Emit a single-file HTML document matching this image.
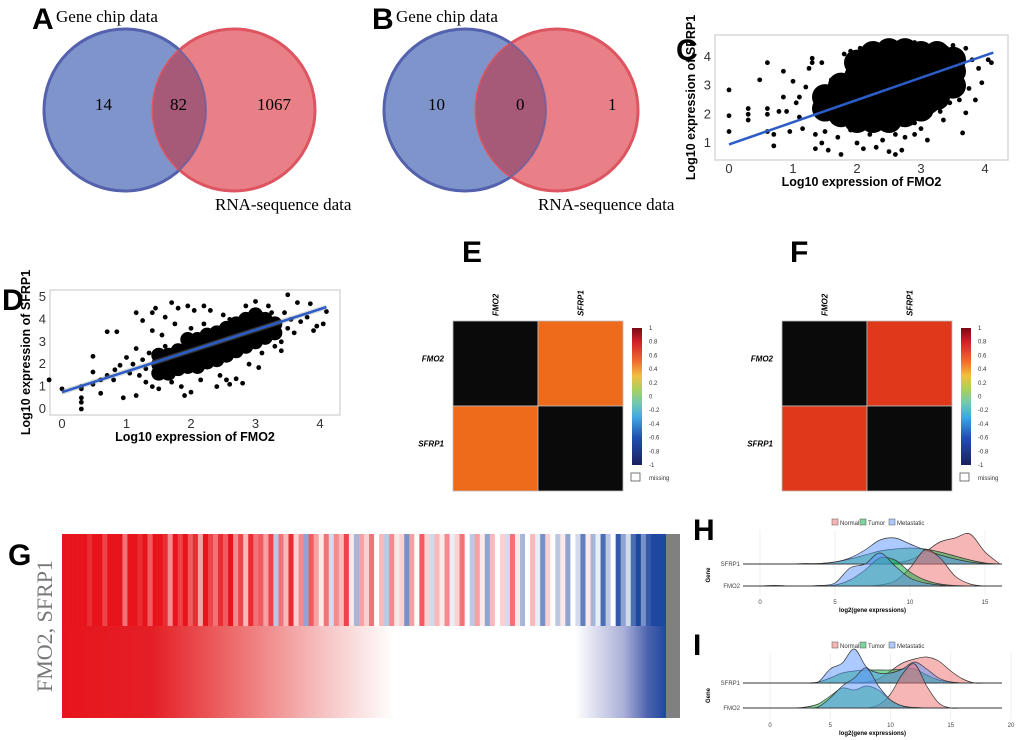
<!DOCTYPE html>
<html><head><meta charset="utf-8"><style>
body{margin:0;background:#fff;width:1020px;height:740px;overflow:hidden}
svg{display:block;font-family:"Liberation Sans",sans-serif}
.lab{font:bold 30px "Liberation Sans",sans-serif}
.ser{font-family:"Liberation Serif",serif}
</style></head><body>
<svg id="fig" width="1020" height="740" viewBox="0 0 1020 740">
<defs>
<clipPath id="clipA"><circle cx="125" cy="110" r="81"/></clipPath>
<clipPath id="clipB"><circle cx="465" cy="110" r="81"/></clipPath>
<linearGradient id="gBot" x1="0" x2="1" y1="0" y2="0">
<stop offset="0" stop-color="#e8141c"/><stop offset="0.15" stop-color="#e41f26"/><stop offset="0.28" stop-color="#ec6a6a"/><stop offset="0.44" stop-color="#f6c6c6"/><stop offset="0.55" stop-color="#fff"/><stop offset="0.85" stop-color="#fff"/><stop offset="0.93" stop-color="#aab0d8"/><stop offset="0.97" stop-color="#4c62ae"/><stop offset="1" stop-color="#1e48a0"/>
</linearGradient>
<linearGradient id="gBar" x1="0" x2="0" y1="0" y2="1">
<stop offset="0" stop-color="#7a0a14"/><stop offset="0.1" stop-color="#d0202a"/><stop offset="0.25" stop-color="#f07030"/><stop offset="0.35" stop-color="#f0c040"/><stop offset="0.45" stop-color="#a8d060"/><stop offset="0.55" stop-color="#70c8b0"/><stop offset="0.65" stop-color="#40a8e0"/><stop offset="0.8" stop-color="#2050b0"/><stop offset="1" stop-color="#1a2060"/>
</linearGradient>
</defs>

<g>
<text class="lab" x="32" y="29">A</text>
<circle cx="125" cy="110" r="81" fill="#8094cc" stroke="#4d63b3" stroke-width="3"/>
<circle cx="234" cy="110" r="81" fill="#e98088" stroke="#dd5560" stroke-width="3"/>
<circle cx="234" cy="110" r="81" fill="#a65a78" clip-path="url(#clipA)"/>
<circle cx="125" cy="110" r="81" fill="none" stroke="#5b5fa8" stroke-width="2" opacity="0.7"/>
<text class="ser" x="56" y="22" font-size="17">Gene chip data</text>
<text class="ser" x="95" y="110" font-size="17">14</text>
<text class="ser" x="170" y="110" font-size="17">82</text>
<text class="ser" x="257" y="110" font-size="17">1067</text>
<text class="ser" x="215" y="210" font-size="17">RNA-sequence data</text>
</g>
<g>
<text class="lab" x="372" y="29">B</text>
<circle cx="465" cy="110" r="81" fill="#8094cc" stroke="#4d63b3" stroke-width="3"/>
<circle cx="557" cy="110" r="81" fill="#e98088" stroke="#dd5560" stroke-width="3"/>
<circle cx="557" cy="110" r="81" fill="#a65a78" clip-path="url(#clipB)"/>
<circle cx="465" cy="110" r="81" fill="none" stroke="#5b5fa8" stroke-width="2" opacity="0.7"/>
<text class="ser" x="396" y="22" font-size="17">Gene chip data</text>
<text class="ser" x="428" y="110" font-size="17">10</text>
<text class="ser" x="516" y="110" font-size="17">0</text>
<text class="ser" x="608" y="110" font-size="17">1</text>
<text class="ser" x="538" y="210" font-size="17">RNA-sequence data</text>
</g>

<g id="pC"></g>
<g id="pD"></g>
<g id="pE"></g>
<g id="pF"></g>
<g id="pG"></g>
<g id="pH"></g>
<g id="pI"></g>
</svg>
<script>
const cCoreX=[1.5,1.5,1.75,1.75,1.75,2,2,2,2,2,2.25,2.25,2.25,2.25,2.25,2.25,2.5,2.5,2.5,2.5,2.5,2.5,2.75,2.75,2.75,2.75,2.75,2.75,3,3,3,3,3,3.25,3.25,3.25,3.25,3.5,3.5,3.5,1.9,2.1,2.4,2.6,2.9,3.1,3.4,2.35,2.65,3.15,1.65];
const cCoreY=[2.2,2.6,2.0,2.5,3.0,1.8,2.3,2.8,3.3,3.8,1.8,2.3,2.8,3.3,3.8,4.1,1.8,2.3,2.8,3.3,3.8,4.2,2.0,2.5,3.0,3.5,4.0,4.2,2.2,2.7,3.2,3.7,4.1,2.6,3.1,3.6,4.1,3.0,3.5,3.9,2.05,2.55,2.05,2.55,2.35,2.45,3.25,3.55,3.75,2.85,2.3];
const cX=[0,0,0,0.3,0.3,0.3,0.48,0.6,0.6,0.6,0.6,0.7,0.7,0.78,0.85,0.85,0.9,0.95,1.0,1.05,1.1,1.1,1.15,1.2,1.25,1.3,1.3,1.35,1.35,1.4,1.45,1.45,1.5,1.55,1.65,1.7,1.75,1.8,1.9,2.0,2.1,2.2,2.3,2.4,2.5,2.6,2.7,2.75,2.9,3.0,3.1,3.35,3.55,3.6,3.65,3.7,3.75,3.8,3.85,3.9,3.95,4.05,4.1,3.7,3.5,2.9,2.6,2.3,2.05,1.6,1.6,1.55,3.3,3.45,3.4,2.2,2.6,2.9,1.9];
const cY=[2.85,1.95,1.4,2.2,2.0,1.8,3.2,3.8,2.2,2.0,1.4,1.3,0.9,2.1,3.5,2.6,2.1,1.4,3.15,2.4,2.6,1.9,1.5,2.95,3.6,3.95,3.8,1.3,0.8,2.3,3.8,1.0,1.4,0.75,2.9,1.2,0.6,4.1,4.2,1.0,0.8,1.3,0.85,1.1,0.7,0.6,0.75,1.2,1.3,1.5,1.1,1.8,3.0,2.5,1.35,2.05,2.9,3.9,2.5,3.6,3.1,3.9,3.8,4.3,4.4,4.5,4.4,4.35,4.3,2.0,3.2,2.5,2.1,2.4,4.3,1.55,1.3,1.7,1.45];
const cFit=[0.95,4.15]; const cFitX=[0,4.13];
const cXTicks=[0,1,2,3,4]; const cYTicks=[1,2,3,4];
const dCoreX=[1.5,1.5,1.5,1.65,1.65,1.65,1.8,1.8,1.8,1.95,1.95,1.95,1.95,2.1,2.1,2.1,2.1,2.25,2.25,2.25,2.25,2.4,2.4,2.4,2.4,2.55,2.55,2.55,2.55,2.7,2.7,2.7,2.7,2.85,2.85,2.85,2.85,3,3,3,3,3.15,3.15,3.15,3.3,3.3];
const dCoreY=[1.6,2.0,2.4,1.6,2.0,2.4,1.8,2.2,2.6,1.9,2.3,2.7,3.1,1.9,2.3,2.7,3.1,2.1,2.5,2.9,3.3,2.2,2.6,3.0,3.4,2.4,2.8,3.2,3.6,2.6,3.0,3.4,3.8,2.8,3.2,3.6,4.0,3.0,3.4,3.8,4.2,3.2,3.6,4.0,3.4,3.8];
const dX=[0,-0.2,0.3,0.3,0.3,0.3,0.3,0.48,0.48,0.48,0.6,0.6,0.7,0.7,0.8,0.82,0.85,0.9,0.95,1.0,1.05,1.1,1.15,1.15,1.15,1.2,1.25,1.3,1.35,1.4,1.4,1.4,1.45,1.5,1.55,1.6,1.7,1.75,1.8,1.85,1.9,1.95,2.0,2.05,2.15,2.2,2.3,2.4,2.45,2.5,2.55,2.6,2.7,2.8,2.85,2.9,3.0,3.05,3.1,3.2,3.3,3.4,3.45,3.5,3.55,3.6,3.65,3.7,3.8,3.85,3.9,3.95,4.05,4.1,3.4,3.5,1.3,1.25,1.7,1.6,2.0,2.2,2.6,3.25];
const dY=[0.9,1.3,1.0,0.9,0.5,0.3,0,2.35,1.65,1.1,0.7,1.3,3.45,1.5,1.3,1.75,3.45,1.95,0.5,2.3,1.6,2.0,4.3,2.7,0.6,1.5,3.95,1.2,2.5,4.3,3.5,1.0,4.5,0.9,3.3,4.1,4.75,3.8,4.5,1.0,0.6,4.6,0.75,4.4,1.3,4.6,4.4,1.0,1.5,4.2,1.3,1.1,1.35,1.15,4.6,2.0,4.8,1.85,2.5,4.6,2.8,2.6,4.3,5.1,4.0,3.4,4.75,3.9,4.1,4.7,3.5,3.7,3.8,4.35,3.0,3.6,1.8,2.2,1.2,2.8,3.6,3.8,4.0,4.3];
const dFit=[0.75,4.55]; const dFitX=[0,4.1];
const dXTicks=[0,1,2,3,4]; const dYTicks=[0,1,2,3,4,5];
const genes=['FMO2','SFRP1'];
const corrE=[[null,0.6],[0.6,null]];
const corrF=[[null,0.78],[0.78,null]];
const barTicks=[1,0.8,0.6,0.4,0.2,0,-0.2,-0.4,-0.6,-0.8,-1];
const gTop=[1,1,1,1,1,0.9,1,1,0.8,1,1,1,0.6,1,1,0.9,1,0.7,1,1,0.9,0.5,1,0.8,1,0.7,0.9,0.4,1,0.8,0.6,0.9,0.7,1,0.5,0.8,0.3,0.9,0.6,0.7,0.4,0.8,-0.3,0.6,0.3,0.9,0.2,0.5,-0.5,0.7,0.4,0.1,0.6,-0.2,0.5,0.3,0.8,0.1,-0.4,0.4,0.2,0.6,0,0.3,-0.3,0.5,0.1,0.2,-0.6,0.4,0,0.7,0.2,-0.2,0.3,0.1,0.5,-0.1,0.2,0.6,0,-0.3,0.4,0.1,-0.5,0.3,0,0.2,-0.2,0.6,0.1,-0.4,0,0.3,-0.1,-0.6,0.2,0,-0.3,0.1,-0.5,0,-0.2,-0.7,0.1,-0.4,-0.1,-0.8,-0.3,0,-0.9,-0.5,-0.2,-0.8,-1,-0.6,-0.9,-1,-1,-1];
const hGrid=[0,1,2,3,4,5,6,7,8,9,10,11,12,13,14,15,16];
const hSfrpNormal=[0,0,0,0,0,0,0,0,0,1,4,12,22,26,30,12,0];
const hSfrpTumor=[0,0,0,0,0.5,2,5,9,13,15,16,15,12,8,4,1,0];
const hSfrpMeta=[0,0,0,0.5,0.5,2,6,14,24,26,20,14,9,5,2,0.5,0];
const hFmoNormal=[0,0,0,0,0,0,0,0,1,5,18,36,28,10,2,0,0];
const hFmoTumor=[0,0.5,0,0,0.5,1,6,16,28,26,14,6,2,0.5,0,0,0];
const hFmoMeta=[0,0.5,0,0,0.5,3,18,22,33,20,8,3,1,0,0,0,0];
const hTicks=[0,5,10,15];
const iGrid=[-2,-1,0,1,2,3,4,5,6,7,8,9,10,11,12,13,14,15,16,17,18,19];
const iSfrpNormal=[0,0,0,0,0,0,0,0,0,0,1,4,12,20,24,26,22,12,4,0,0,0];
const iSfrpTumor=[0,0,0,0,0,0,1,5,10,12,13,13,13,14,14,8,3,1,0,0,0,0];
const iSfrpMeta=[0,0,0,0,0,0,1,14,20,34,16,10,10,14,21,14,5,1,0,0,0,0];
const iFmoNormal=[0,0,0,0,0,0,0,0,0,0,0,3,14,34,44,22,5,0,0,0,0,0];
const iFmoTumor=[0,0,0,0,0,1,4,12,20,18,22,18,8,2,0.5,0,0,0,0,0,0,0];
const iFmoMeta=[0,0,0,0,0,0,1,10,22,30,40,22,8,2,0.5,0,0,0,0,0,0,0];
const iTicks=[0,5,10,15,20];

const NS='http://www.w3.org/2000/svg';
function mk(parent,tag,attrs){const e=document.createElementNS(NS,tag);for(const k in attrs)e.setAttribute(k,attrs[k]);parent.appendChild(e);return e;}
function txt(parent,x,y,s,size,extra){const t=mk(parent,'text',Object.assign({x:x,y:y,'font-size':size},extra||{}));t.textContent=s;return t;}

function scatter(g,box,xs,ys,coreX,coreY,coreR,ptR,fitX,fitY,xt,yt,label,lx,ly,band){
  const sx=v=>box.x0+(v-box.xmin)*box.kx, sy=v=>box.y0-(v-box.ymin)*box.ky;
  const fr=mk(g,'rect',{x:box.l,y:box.t,width:box.r-box.l,height:box.b-box.t,fill:'#fff',stroke:'#d8d8d8','stroke-width':1.5});
  
  
  const lab=mk(g,'text',{x:lx,y:ly,class:'lab'});lab.textContent=label;
  
  
  for(let i=0;i<coreX.length;i++){
    const c=mk(g,'circle',{cx:sx(coreX[i]),cy:sy(coreY[i]),r:coreR,fill:'#000'});
    
    
  }
  for(let i=0;i<xs.length;i++){
    const c=mk(g,'circle',{cx:sx(xs[i]),cy:sy(ys[i]),r:ptR,fill:'#000'});
    
    
  }
  if(band){const b=mk(g,'polygon',{points:`${sx(fitX[0])},${sy(fitY[0]+0.12)} ${sx(fitX[1])},${sy(fitY[1]+0.12)} ${sx(fitX[1])},${sy(fitY[1]-0.12)} ${sx(fitX[0])},${sy(fitY[0]-0.12)}`,fill:'#999',opacity:0.35});
    
    }
  const ln=mk(g,'line',{x1:sx(fitX[0]),y1:sy(fitY[0]),x2:sx(fitX[1]),y2:sy(fitY[1]),stroke:'#2b5cc8','stroke-width':2.5});
  
  
  xt.forEach(v=>{const t=txt(g,sx(v),box.b+13,String(v),13,{'text-anchor':'middle',fill:'#333'});
    
    });
  yt.forEach(v=>{const t=txt(g,box.l-4,sy(v)+4,String(v),13,{'text-anchor':'end',fill:'#333'});
    
    });
  const xa=txt(g,(box.l+box.r)/2,box.b+26,'Log10 expression of FMO2',12.5,{'text-anchor':'middle','font-weight':'bold'});
  
  
  const ya=txt(g,0,0,'Log10 expression of SFRP1',12.5,{'text-anchor':'middle','font-weight':'bold',transform:`translate(${box.l-20},${(box.t+box.b)/2}) rotate(-90)`});
  
  
}
scatter(document.getElementById('pC'),{l:715,r:1008,t:35,b:160,x0:729,xmin:0,kx:64,y0:143,ymin:1,ky:28.7},cX,cY,cCoreX,cCoreY,13,2.4,cFitX,cFit,cXTicks,cYTicks,'C',676,60,false);
scatter(document.getElementById('pD'),{l:50,r:340,t:290,b:415,x0:62,xmin:0,kx:64.5,y0:409,ymin:0,ky:22.4},dX,dY,dCoreX,dCoreY,7.5,2.4,dFitX,dFit,dXTicks,dYTicks,'D',2,310,true);

function corrColor(v){if(v===null)return '#0a0a0a'; return v>0.7?'#e0381a':'#ee6b1c';}
function heat(g,x0,y0,size,mat,label,lx){
  const lab=mk(g,'text',{x:lx,y:262,class:'lab'});lab.textContent=label;
  
  
  const cs=size/genes.length;
  for(let r=0;r<genes.length;r++)for(let c=0;c<genes.length;c++){
    const cell=mk(g,'rect',{x:x0+c*cs,y:y0+r*cs,width:cs,height:cs,fill:corrColor(mat[r][c]),stroke:'#bbb','stroke-width':0.8});
    
    
  }
  genes.forEach((n,i)=>{
    const t=txt(g,0,0,n,8,{'font-weight':'bold','font-style':'italic',transform:`translate(${x0+i*cs+cs/2+3},${y0-5}) rotate(-90)`});
    
    
    const t2=txt(g,x0-9,y0+i*cs+cs/2-2,n,8,{'text-anchor':'end','font-weight':'bold','font-style':'italic'});
    
    
  });
  const bx=x0+size+9, bt=y0+7, bb=y0+144;
  const bar=mk(g,'rect',{x:bx,y:bt,width:10,height:bb-bt,fill:'url(#gBar)'});
  
  
  barTicks.forEach((v,i)=>{const t=txt(g,bx+17,bt+2+i*(bb-bt)/(barTicks.length-1),String(v),6,{fill:'#333'});
    
    });
  const mb=mk(g,'rect',{x:bx-1,y:y0+152,width:9,height:8,fill:'#fff',stroke:'#555','stroke-width':0.8});
  
  
  const mt=txt(g,bx+17,y0+159,'missing',6,{fill:'#333'});
  
  
}
heat(document.getElementById('pE'),453,321,170,corrE,'E',462);
heat(document.getElementById('pF'),782,321,170,corrF,'F',790);

(function(){
  const g=document.getElementById('pG');
  const x0=62,x1=666,t=534,m=626,b=718;
  const lab=mk(g,'text',{x:8,y:565,class:'lab'});lab.textContent='G';
  
  
  function col(v){const a=Math.abs(v);const base=v>=0?[232,20,28]:[30,72,160];
    const c=base.map(q=>Math.round(255-(255-q)*a));return `rgb(${c[0]},${c[1]},${c[2]})`;}
  const w=(x1-x0)/gTop.length;
  gTop.forEach((v,i)=>{const r=mk(g,'rect',{x:x0+i*w,y:t,width:w+0.3,height:m-t,fill:col(v)});
    
    });
  const bot=mk(g,'rect',{x:x0,y:m,width:x1-x0,height:b-m,fill:'url(#gBot)'});
  
  
  const gr=mk(g,'rect',{x:x1,y:t,width:14,height:b-t,fill:'#808080'});
  
  
  const yl=txt(g,0,0,'FMO2, SFRP1',22,{class:'ser',fill:'#777','text-anchor':'middle',transform:'translate(52,626) rotate(-90)'});
  
  
})();

function smoothPath(pts){let d=`M${pts[0][0]},${pts[0][1]}`;
  for(let i=0;i<pts.length-1;i++){const p0=pts[Math.max(0,i-1)],p1=pts[i],p2=pts[i+1],p3=pts[Math.min(pts.length-1,i+2)];
    d+=` C${p1[0]+(p2[0]-p0[0])/6},${p1[1]+(p2[1]-p0[1])/6} ${p2[0]-(p3[0]-p1[0])/6},${p2[1]-(p3[1]-p1[1])/6} ${p2[0]},${p2[1]}`;}
  return d;}
function ridge(g,cfg){
  const sx=v=>cfg.x0+v*cfg.k;
  const lab=mk(g,'text',{x:cfg.lx,y:cfg.ly,class:'lab'});lab.textContent=cfg.label;
  
  
  cfg.ticks.forEach(v=>{const l=mk(g,'line',{x1:sx(v),x2:sx(v),y1:cfg.top,y2:cfg.tickY-8,stroke:'#ececec','stroke-width':0.8});
    
    
    const t=txt(g,sx(v),cfg.tickY,String(v),6,{'text-anchor':'middle',fill:'#444'});
    
    });
  [cfg.b1,cfg.b2].forEach(bl=>{const l=mk(g,'line',{x1:743,x2:1002,y1:bl,y2:bl,stroke:'#ececec'});
    
    });
  const cols=['rgba(240,110,110,0.5)','rgba(0,170,60,0.5)','rgba(90,150,255,0.5)'];
  const names=['Normal','Tumor','Metastatic'];
  [[cfg.b1,cfg.s],[cfg.b2,cfg.f]].forEach(([bl,series])=>{
    series.forEach((arr,j)=>{
      const pts=cfg.grid.map((x,i)=>[sx(x),bl-arr[i]]);
      let d=`M743,${bl} L${pts[0][0]},${bl} `+smoothPath(pts).replace('M','L')+` L1002,${bl} Z`;
      const p=mk(g,'path',{d:d,fill:cols[j],stroke:'#333','stroke-width':0.7});
      
      
    });
  });
  const s1=txt(g,740,cfg.b1+2,'SFRP1',6,{'text-anchor':'end',fill:'#444'});
  
  
  const s2=txt(g,740,cfg.b2+2,'FMO2',6,{'text-anchor':'end',fill:'#444'});
  
  
  const yt=txt(g,0,0,'Gene',6,{'font-weight':'bold','text-anchor':'middle',transform:`translate(710,${(cfg.b1+cfg.b2)/2}) rotate(-90)`});
  
  
  const xt=txt(g,(743+1002)/2,cfg.tickY+8,cfg.xtitle,6,{'font-weight':'bold','text-anchor':'middle'});
  
  
  const lx=[832,860,889];
  names.forEach((n,j)=>{const r=mk(g,'rect',{x:lx[j],y:cfg.legY-4,width:6,height:6,fill:cols[j],stroke:'#555','stroke-width':0.5});
    
    
    const t=txt(g,lx[j]+8,cfg.legY+2,n,6,{fill:'#333'});
    
    });
}
ridge(document.getElementById('pH'),{label:'H',lx:693,ly:540,x0:760,k:15,grid:hGrid,ticks:hTicks,b1:564,b2:586,top:530,tickY:604,legY:523,xtitle:'log2(gene expressions)',s:[hSfrpNormal,hSfrpTumor,hSfrpMeta],f:[hFmoNormal,hFmoTumor,hFmoMeta]});
ridge(document.getElementById('pI'),{label:'I',lx:693,ly:655,x0:770,k:12.05,grid:iGrid,ticks:iTicks,b1:683,b2:708,top:653,tickY:727,legY:646,xtitle:'log2(gene expressions)',s:[iSfrpNormal,iSfrpTumor,iSfrpMeta],f:[iFmoNormal,iFmoTumor,iFmoMeta]});
</script>
</body></html>
